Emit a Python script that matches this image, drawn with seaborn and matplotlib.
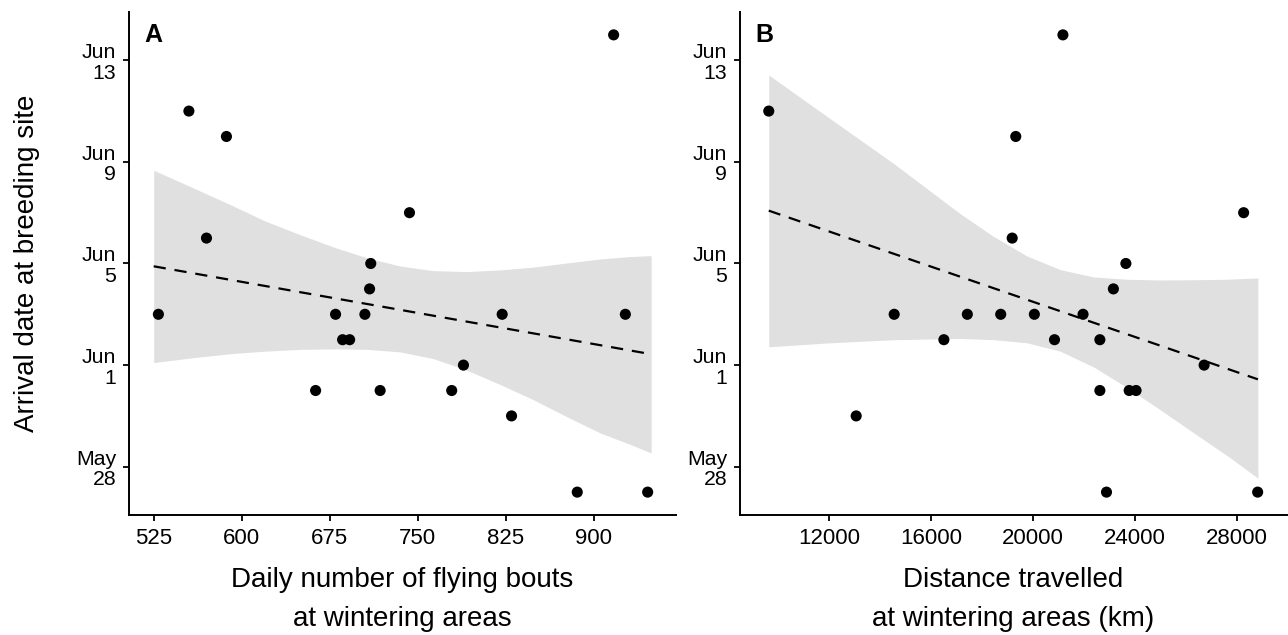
import numpy as np
import pandas as pd
import seaborn as sns
import matplotlib.pyplot as plt

# arrival date stored as day of June (0 = 31 May, -4 = 27 May)

# panel A: daily number of flying bouts at wintering areas
bouts = [529, 555, 570, 587, 663, 680, 686, 692, 705, 709, 710,
         718, 743, 779, 789, 822, 830, 886, 917, 927, 946]
arrival_a = [3, 11, 6, 10, 0, 3, 2, 2, 3, 4, 5,
             0, 7, 0, 1, 3, -1, -4, 14, 3, -4]

# model prediction for A: fitted line and 95% band
fit_x_a = [525, 949]
fit_a = [4.89, 1.43]
band_x_a = [525, 560, 593, 620, 650, 680, 707, 735, 763, 792, 821, 849, 877, 906, 930, 949]
band_lo_a = [1.10, 1.30, 1.46, 1.55, 1.62, 1.64, 1.62, 1.52, 1.26, 0.80, 0.22, -0.37, -1.03, -1.68, -2.10, -2.46]
band_hi_a = [8.67, 7.95, 7.26, 6.67, 6.13, 5.62, 5.22, 4.90, 4.72, 4.68, 4.75, 4.86, 5.02, 5.18, 5.27, 5.31]

# panel B: distance travelled at wintering areas (km)
distance = [9630, 13060, 14550, 16500, 17420, 18730, 19180, 19320, 20050, 20840, 21170,
            21960, 22620, 22620, 22880, 23150, 23640, 23770, 24040, 26710, 28260, 28810]
arrival_b = [11, -1, 3, 2, 3, 3, 6, 10, 3, 2, 14,
             3, 2, 0, -4, 4, 5, 0, 0, 1, 7, -4]

fit_x_b = [9630, 28820]
fit_b = [7.08, 0.44]
band_x_b = [9630, 11900, 14510, 17130, 18440, 19750, 21060, 22370, 23680, 24990, 26290, 27610, 28820]
band_lo_b = [1.72, 1.87, 2.00, 2.05, 2.00, 1.88, 1.55, 0.93, 0.12, -0.76, -1.66, -2.56, -3.45]
band_hi_b = [12.42, 10.80, 8.95, 6.97, 6.07, 5.30, 4.76, 4.47, 4.38, 4.35, 4.36, 4.38, 4.43]

date_ticks = [13, 9, 5, 1, -3]
date_labels = ["Jun\n13", "Jun\n9", "Jun\n5", "Jun\n1", "May\n28"]
bout_ticks = [525, 600, 675, 750, 825, 900]
dist_ticks = [12000, 16000, 20000, 24000, 28000]

df_a = pd.DataFrame({"x": bouts, "arrival": arrival_a})
df_b = pd.DataFrame({"x": distance, "arrival": arrival_b})

sns.set_style("ticks")
plt.rcParams['font.family'] = ['Liberation Sans', 'DejaVu Sans']
plt.rcParams.update({
    'axes.linewidth': 1.4,
    'axes.edgecolor': 'black',
    'text.color': 'black',
    'axes.labelcolor': 'black',
    'xtick.color': 'black',
    'ytick.color': 'black',
})

fig = plt.figure(figsize=(12.88, 6.35), dpi=100)
ax_a = fig.add_axes([0.1002, 0.189, 0.4245, 0.7921])
ax_b = fig.add_axes([0.5745, 0.189, 0.4245, 0.7921])

panels = [
    (ax_a, df_a, fit_x_a, fit_a, band_x_a, band_lo_a, band_hi_a, "A",
     "Daily number of flying bouts\nat wintering areas", bout_ticks, (504, 970)),
    (ax_b, df_b, fit_x_b, fit_b, band_x_b, band_lo_b, band_hi_b, "B",
     "Distance travelled\nat wintering areas (km)", dist_ticks, (8500, 29950)),
]

for ax, d, fx, fy, bx, blo, bhi, tag, xlab, xt, xl in panels:
    ax.fill_between(bx, blo, bhi, color="#E0E0E0", lw=0, zorder=1)
    sns.lineplot(x=fx, y=fy, ax=ax, color="black", lw=1.6, zorder=2)
    ax.lines[-1].set_dashes((5.5, 4))

    sns.scatterplot(data=d, x="x", y="arrival", ax=ax, color="black",
                    s=64, edgecolor="none", zorder=4)

    ax.set_xlim(*xl)
    ax.set_ylim(-4.9, 14.9)
    ax.set_xticks(xt)
    ax.set_yticks(date_ticks)
    ax.set_yticklabels(date_labels)
    ax.tick_params(axis="x", labelsize=16, length=4.2, width=1.3, pad=5)
    ax.tick_params(axis="y", labelsize=15.3, length=4.3, width=1.3, pad=5)
    for lbl in ax.get_yticklabels():
        lbl.set_linespacing(1.1)
    ax.set_xlabel(xlab, fontsize=20, linespacing=1.68, labelpad=13)
    ax.set_ylabel("")
    sns.despine(ax=ax)
    ax.text(0.028, 0.978, tag, transform=ax.transAxes, fontsize=18,
            fontweight="bold", va="top", ha="left")

ax_a.set_ylabel("Arrival date at breeding site", fontsize=20)
ax_a.yaxis.set_label_coords(-0.162, 0.5)

fig.savefig("out.png", dpi=100)
